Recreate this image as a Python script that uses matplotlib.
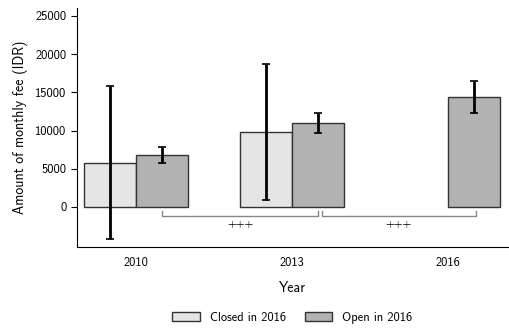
import matplotlib
matplotlib.use("Agg")
import matplotlib.pyplot as plt
import numpy as np

years = ["2010", "2013", "2016"]
closed_mean = [5800, 9800, np.nan]
closed_err = [10000, 8900, np.nan]
open_mean = [6800, 11000, 14400]
open_err = [1100, 1350, 2100]
yticks = [0, 5000, 10000, 15000, 20000, 25000]
brackets = [(0.17, 1.165), (1.19, 2.18)]
bracket_labels = ["+++", "+++"]

plt.rcParams['font.family'] = ['cmss10', 'DejaVu Sans']

fig = plt.figure(figsize=(5.1, 3.3), dpi=100)
ax = fig.add_axes([0.151, 0.2515, 0.845, 0.7245])

x = np.arange(len(years))
w = 1 / 3
ax.bar(x - w / 2, closed_mean, w, color='#e5e5e5', edgecolor='#333333', linewidth=1.0,
       label='Closed in 2016')
ax.bar(x + w / 2, open_mean, w, color='#b2b2b2', edgecolor='#333333', linewidth=1.0,
       label='Open in 2016')
ax.errorbar(x - w / 2, closed_mean, yerr=closed_err, fmt='none', ecolor='black',
            elinewidth=2, capsize=3, capthick=1.2)
ax.errorbar(x + w / 2, open_mean, yerr=open_err, fmt='none', ecolor='black',
            elinewidth=2, capsize=3, capthick=1.2)

# significance brackets
for (x0, x1), lab in zip(brackets, bracket_labels):
    ax.plot([x0, x0, x1, x1], [-520, -1150, -1150, -520], color='#888888', lw=1)
    ax.text((x0 + x1) / 2, -2250, lab, ha='center', va='center', fontsize=8)

ax.set_xlim(-0.378, 2.385)
ax.set_ylim(-5250, 26050)
ax.set_xticks(x)
ax.set_xticklabels(years)
ax.set_yticks(yticks)
ax.tick_params(axis='x', length=0, pad=7, labelsize=9)
ax.tick_params(axis='y', length=4, labelsize=9)
ax.spines['top'].set_visible(False)
ax.spines['right'].set_visible(False)
ax.set_xlabel('Year', fontsize=10, labelpad=9)
ax.set_ylabel('Amount of monthly fee (IDR)', fontsize=10, labelpad=5)

ax.legend(loc='center', bbox_to_anchor=(0.5, -0.297), ncol=2, frameon=False,
          fontsize=9, handlelength=2.2, columnspacing=1.5)

fig.savefig("out.png", dpi=100)
